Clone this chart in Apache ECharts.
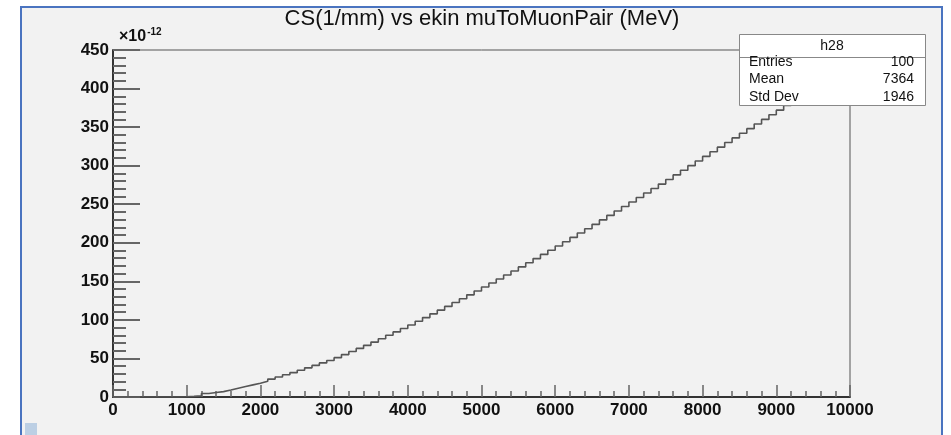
<!DOCTYPE html>
<html>
<head>
<meta charset="utf-8">
<script src="https://cdn.jsdelivr.net/npm/echarts@6/dist/echarts.min.js"></script>
<style>
html,body{margin:0;padding:0;background:#ffffff;}
#chart{width:951px;height:435px;}
</style>
</head>
<body>
<div id="chart"></div>
<script>
// Histogram h28: 100 bins from 0 to 10000 (bin width 100), values in units of 1e-12
var binWidth = 100;
var binValues = [
  0, 0, 0, 0, 0, 0, 0, 0, 0, 0.3,
  0.8, 1.5, 4.5, 5.8, 7.0, 9.0, 11.3, 13.5, 15.7, 17.9,
  20.4, 23.2, 26.0, 28.8, 31.6, 34.6, 37.8, 41.0, 44.2, 47.4,
  51.0, 55.0, 59.0, 63.0, 67.0, 71.2, 75.6, 80.0, 84.4, 88.8,
  93.4, 98.2, 103.0, 107.8, 112.6, 117.5, 122.5, 127.5, 132.5, 137.5,
  142.6, 147.8, 153.0, 158.2, 163.4, 168.7, 174.1, 179.5, 184.9, 190.3,
  195.8, 201.4, 207.0, 212.6, 218.2, 223.9, 229.7, 235.5, 241.3, 247.1,
  252.9, 258.7, 264.5, 270.3, 276.1, 282.0, 288.0, 294.0, 300.0, 306.0,
  312.0, 318.0, 324.0, 330.0, 336.0, 342.0, 348.0, 354.0, 360.0, 366.0,
  372.0, 378.0, 384.0, 390.0, 396.0, 402.0, 408.0, 414.0, 420.0, 426.0
];
var xTicks = [0, 1000, 2000, 3000, 4000, 5000, 6000, 7000, 8000, 9000, 10000];
var yTicks = [0, 50, 100, 150, 200, 250, 300, 350, 400, 450];
var titleText = 'CS(1/mm) vs ekin muToMuonPair (MeV)';
var statsName = 'h28';
var statLabels = ['Entries', 'Mean', 'Std Dev'];
var statValues = ['100', '7364', '1946'];

var stepData = [];
for (var i = 0; i < binValues.length; i++) {
  stepData.push([i * binWidth, binValues[i]]);
}
stepData.push([binValues.length * binWidth, binValues[binValues.length - 1]]);

var FONT = '"Liberation Sans", Arial, Helvetica, sans-serif';

var graphics = [
  // outer window frame
  {type:'rect', shape:{x:21, y:7, width:921, height:440}, style:{fill:'#f2f2f2', stroke:'#4a74c0', lineWidth:2}, z:-10, silent:true},
  {type:'rect', shape:{x:25, y:423, width:12, height:14}, style:{fill:'#bccfe4'}, z:-9, silent:true},
  // exponent label
  {type:'text', x:119, y:37, z:100, style:{
    text:'{a|×10}{b|-12}', font:'bold 16px ' + FONT, verticalAlign:'middle',
    rich:{a:{font:'bold 16px ' + FONT, fill:'#111'}, b:{font:'bold 10px ' + FONT, fill:'#111', verticalAlign:'top', padding:[0,0,10,1]}}
  }},
  // title
  {type:'text', x:482, y:19, z:100, style:{text:titleText, font:'22px ' + FONT, fill:'#111', align:'center', verticalAlign:'middle'}},
  // stats box
  {type:'rect', z:100, shape:{x:739.5, y:34.5, width:186, height:71}, style:{fill:'#ffffff', stroke:'#888', lineWidth:1}},
  {type:'line', z:101, shape:{x1:739.5, y1:57.5, x2:925.5, y2:57.5}, style:{stroke:'#888', lineWidth:1}},
  {type:'text', z:101, x:832, y:46, style:{text:statsName, font:'14px ' + FONT, fill:'#111', align:'center', verticalAlign:'middle'}}
];
for (var k = 0; k < statLabels.length; k++) {
  var yy = 62 + k * 17.5;
  graphics.push({type:'text', z:101, x:749, y:yy, style:{text:statLabels[k], font:'14px ' + FONT, fill:'#111', align:'left', verticalAlign:'middle'}});
  graphics.push({type:'text', z:101, x:914, y:yy, style:{text:statValues[k], font:'14px ' + FONT, fill:'#111', align:'right', verticalAlign:'middle'}});
}

var chart = echarts.init(document.getElementById('chart'), null, {renderer:'canvas'});
chart.setOption({
  animation:false,
  backgroundColor:'#ffffff',
  grid:{left:113, right:101, top:50, bottom:38, show:true, borderColor:'#555', borderWidth:1, backgroundColor:'transparent', containLabel:false},
  xAxis:{
    type:'value', min:xTicks[0], max:xTicks[xTicks.length-1], interval:1000,
    axisLine:{show:true, onZero:false, lineStyle:{color:'#333', width:2}},
    axisTick:{show:true, inside:true, length:12, lineStyle:{color:'#666', width:1.5}},
    minorTick:{show:true, splitNumber:5, length:6, lineStyle:{color:'#666', width:1.5}},
    splitLine:{show:false},
    axisLabel:{show:true, margin:5, color:'#111', fontFamily:FONT, fontWeight:'bold', fontSize:17,
      showMinLabel:true, showMaxLabel:true, formatter:function(v){ return String(v); }}
  },
  yAxis:{
    type:'value', min:yTicks[0], max:yTicks[yTicks.length-1], interval:50,
    axisLine:{show:true, onZero:false, lineStyle:{color:'#333', width:2}},
    axisTick:{show:true, inside:true, length:27, lineStyle:{color:'#666', width:2}},
    minorTick:{show:true, splitNumber:5, length:13, lineStyle:{color:'#666', width:2}},
    splitLine:{show:false},
    axisLabel:{show:true, margin:4, color:'#111', fontFamily:FONT, fontWeight:'bold', fontSize:17,
      formatter:function(v){ return String(v); }}
  },
  series:[{
    type:'line', step:'end', data:stepData, showSymbol:false, symbol:'none',
    lineStyle:{color:'#555', width:1.6}, clip:true, z:5
  }],
  graphic:graphics
});
</script>
</body>
</html>
